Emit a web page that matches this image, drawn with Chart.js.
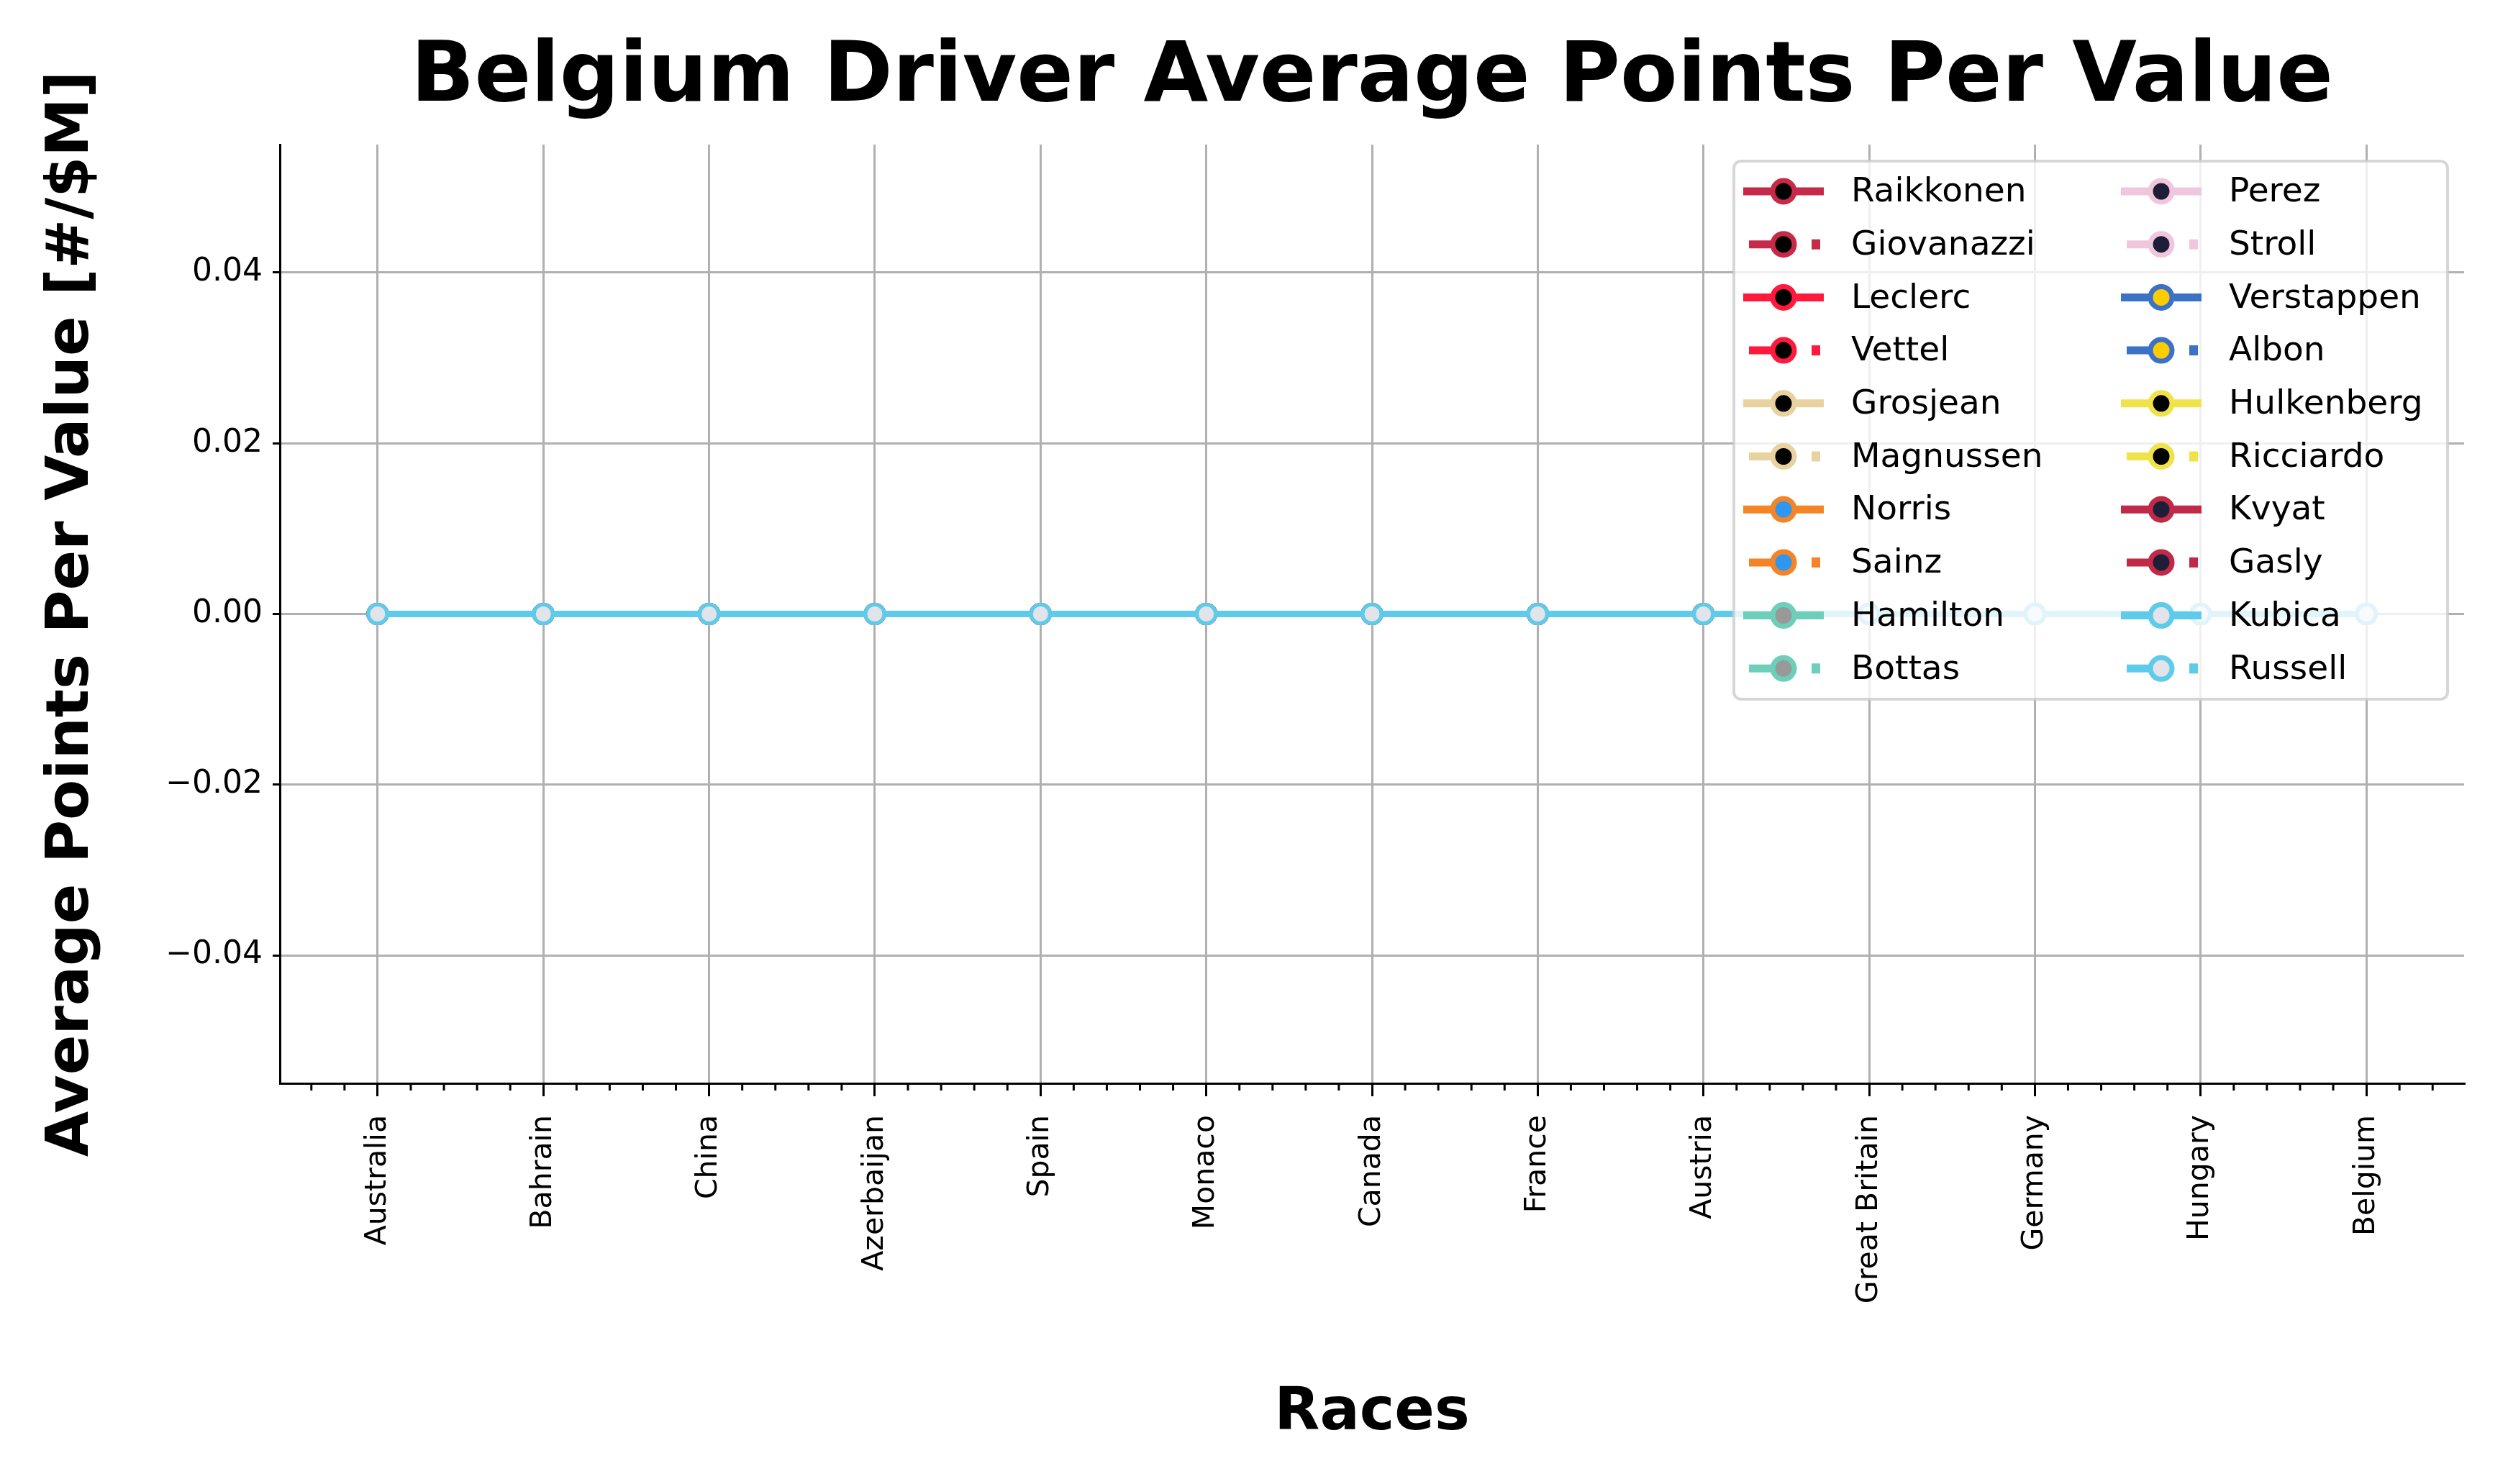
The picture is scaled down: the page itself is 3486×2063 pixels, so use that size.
<!DOCTYPE html>
<html lang="en">
<head>
<meta charset="UTF-8">
<title>Belgium Driver Average Points Per Value</title>
<script src="https://cdn.jsdelivr.net/npm/chart.js"></script>
<style>
    body { margin: 0; background: #fff; }
    #chart { display: block; }
</style>
</head>
<body>
<canvas id="chart" width="3486" height="2063"></canvas>
<script>
// data
const races = ["Australia", "Bahrain", "China", "Azerbaijan", "Spain", "Monaco", "Canada",
    "France", "Austria", "Great Britain", "Germany", "Hungary", "Belgium"];
const drivers = ["Raikkonen", "Giovanazzi", "Leclerc", "Vettel", "Grosjean", "Magnussen",
    "Norris", "Sainz", "Hamilton", "Bottas", "Perez", "Stroll", "Verstappen", "Albon",
    "Hulkenberg", "Ricciardo", "Kvyat", "Gasly", "Kubica", "Russell"];
// every driver averages 0 points per value at every race
const pointsPerValue = drivers.map(() => [0, 0, 0, 0, 0, 0, 0, 0, 0, 0, 0, 0, 0]);
const yTicks = [-0.04, -0.02, 0, 0.02, 0.04];
const chartTitle = "Belgium Driver Average Points Per Value";

// team colours: line, marker face
const teamLine = ["#c72a48", "#ff1a3d", "#e8d29f", "#f58426", "#6dcfba", "#f0c6dc", "#3b71c7", "#f0e349", "#c02a46", "#5fcbea"];
const teamFace = ["#000000", "#000000", "#000000", "#2f97f0", "#999999", "#1f1e38", "#ffcc00", "#000000", "#1f1e38", "#e2e4ea"];

const datasets = drivers.map((name, i) => {
    const t = Math.floor(i / 2);
    return {
        label: name,
        data: pointsPerValue[i].map((v, k) => ({ x: k, y: v })),
        order: drivers.length - i,   // later drivers drawn on top
        borderColor: teamLine[t],
        backgroundColor: teamLine[t],
        borderWidth: 9,
        borderDash: i % 2 ? [8, 12] : [],
        pointRadius: 13,
        pointBorderWidth: 5,
        pointBackgroundColor: teamFace[t],
        pointBorderColor: teamLine[t],
        tension: 0
    };
});

const extras = {
    id: "extras",
    afterDraw(chart) {
        const ctx = chart.ctx;
        const xs = chart.scales.x;
        const a = chart.chartArea;
        ctx.save();
        // title centred over the plot
        ctx.fillStyle = "#000";
        ctx.font = "bold 116px 'DejaVu Sans'";
        ctx.textAlign = "center";
        ctx.textBaseline = "middle";
        ctx.fillText(chartTitle, (a.left + a.right) / 2, 110);
        ctx.textAlign = "left";
        // minor ticks
        ctx.strokeStyle = "#000";
        ctx.lineWidth = 3;
        for (let m = -3; m <= 63; m++) {
            if (m % 5 === 0) continue;
            const px = xs.getPixelForValue(m / 5);
            if (px < a.left || px > a.right) continue;
            ctx.beginPath();
            ctx.moveTo(px, a.bottom);
            ctx.lineTo(px, a.bottom + 10);
            ctx.stroke();
        }
        // legend
        const bx = 2410, by = 224, bw = 992, bh = 748, r = 10;
        ctx.beginPath();
        ctx.roundRect(bx, by, bw, bh, r);
        ctx.fillStyle = "rgba(255,255,255,0.8)";
        ctx.fill();
        ctx.strokeStyle = "rgba(204,204,204,0.8)";
        ctx.lineWidth = 4;
        ctx.stroke();
        ctx.font = "47px 'DejaVu Sans'";
        ctx.textBaseline = "middle";
        chart.data.datasets.forEach((ds, i) => {
            const col = Math.floor(i / 10), row = i % 10;
            const hx = 2423 + col * 525, hy = 266 + row * 73.7;
            const mx = hx + 56;
            ctx.strokeStyle = ds.borderColor;
            ctx.lineWidth = 11;
            ctx.setLineDash([]);
            if (ds.borderDash.length) {
                ctx.beginPath(); ctx.moveTo(hx + 8, hy); ctx.lineTo(mx, hy); ctx.stroke();
                ctx.fillStyle = ds.borderColor;
                ctx.fillRect(hx + 95, hy - 7, 12, 14);
            } else {
                ctx.beginPath(); ctx.moveTo(hx, hy); ctx.lineTo(hx + 112, hy); ctx.stroke();
            }
            ctx.beginPath();
            ctx.arc(mx, hy, 15, 0, Math.PI * 2);
            ctx.fillStyle = ds.pointBackgroundColor;
            ctx.fill();
            ctx.lineWidth = 7;
            ctx.stroke();
            ctx.fillStyle = "#000";
            ctx.fillText(ds.label, hx + 150, hy + 2);
        });
        ctx.restore();
    }
};

new Chart(document.getElementById("chart"), {
    type: "line",
    data: { datasets: datasets },
    plugins: [extras],
    options: {
        responsive: false,
        animation: false,
        devicePixelRatio: 1,
        layout: { padding: { left: 0, right: 61, top: 201, bottom: 0 } },
        plugins: {
            legend: { display: false },
            tooltip: { enabled: false }
        },
        scales: {
            x: {
                type: "linear",
                min: -0.59,
                max: 12.59,
                afterFit(s) { s.height = 557; },
                afterBuildTicks(s) { s.ticks = races.map((r, k) => ({ value: k })); },
                ticks: {
                    autoSkip: false,
                    minRotation: 90,
                    maxRotation: 90,
                    padding: 26,
                    color: "#000",
                    font: { family: "DejaVu Sans", size: 41 },
                    callback: v => races[v]
                },
                grid: { color: "#b0b0b0", lineWidth: 3, tickLength: 18, tickColor: "#000", tickWidth: 3 },
                border: { color: "#000", width: 3 },
                title: {
                    display: true,
                    text: "Races",
                    color: "#000",
                    font: { family: "DejaVu Sans", size: 82, weight: "bold" },
                    padding: { top: 48, bottom: 48 }
                }
            },
            y: {
                min: -0.055,
                max: 0.055,
                afterFit(s) { s.width = 389; },
                afterBuildTicks(s) { s.ticks = yTicks.map(v => ({ value: v })); },
                ticks: {
                    padding: 14,
                    color: "#000",
                    font: { family: "DejaVu Sans", size: 44 },
                    callback: v => (v < 0 ? "\u2212" : "") + Math.abs(v).toFixed(2)
                },
                grid: { color: "#b0b0b0", lineWidth: 3, tickLength: 10, tickColor: "#000", tickWidth: 3 },
                border: { color: "#000", width: 3 },
                title: {
                    display: true,
                    text: "Average Points Per Value [#/$M]",
                    color: "#000",
                    font: { family: "DejaVu Sans", size: 82, weight: "bold" },
                    padding: { top: 52, bottom: 52 }
                }
            }
        }
    }
});
</script>
</body>
</html>
